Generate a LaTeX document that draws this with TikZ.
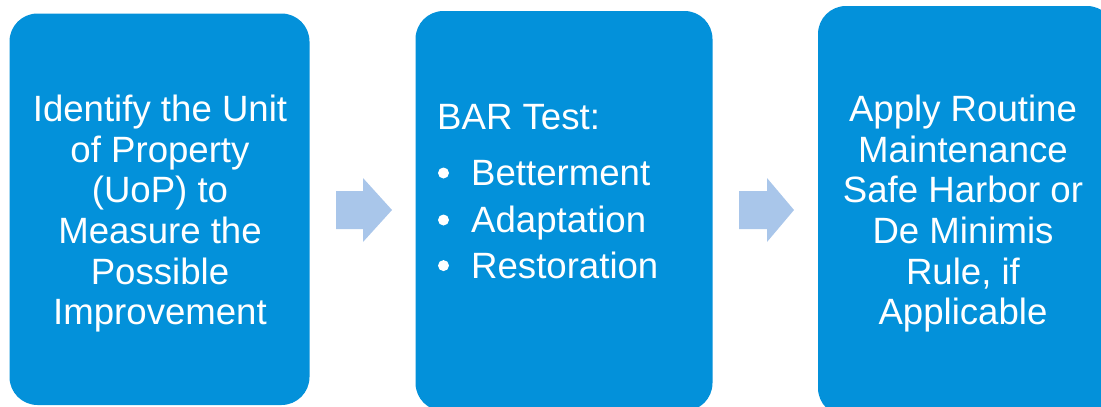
\documentclass[tikz,border=0pt]{standalone}
\usepackage{fontspec}
\setmainfont{Liberation Sans}
\definecolor{boxblue}{RGB}{3,145,218}
\definecolor{arrowblue}{RGB}{169,198,234}
\tikzset{
  stepbox/.style={fill=boxblue, draw=none, rounded corners=28pt, inner sep=0pt},
  boxtext/.style={text=white, font=\fontsize{36.6}{40.6}\selectfont, inner sep=0pt, align=center},
  bartext/.style={text=white, font=\fontsize{36.6}{40.6}\selectfont, inner sep=0pt, anchor=base west},
  bulletdot/.style={circle, fill=white, draw=none, minimum size=11pt, inner sep=0pt},
  blockarrow/.style={fill=arrowblue, draw=none},
}
\begin{document}
\begin{tikzpicture}[x=1pt,y=-1pt]
\useasboundingbox (0,0) rectangle (1101,407);
\clip (0,0) rectangle (1101,407);
% boxes
\node[stepbox, minimum width=300pt, minimum height=391.5pt] (b1) at (159.5,209.25) {};
\node[stepbox, minimum width=297pt, minimum height=400pt] (b2) at (564,211) {};
\node[stepbox, minimum width=297pt, minimum height=410pt] (b3) at (966.5,211) {};
% block arrows
\fill[blockarrow] (336,191) -- (363,191) -- (363,178) -- (392,210) -- (363,242) -- (363,229) -- (336,229) -- cycle;
\fill[blockarrow] (739,191) -- (767,191) -- (767,178) -- (794,210) -- (767,242) -- (767,229) -- (739,229) -- cycle;
% texts
\node[boxtext, anchor=north] (t1) at (160,95) {Identify the Unit\\of Property\\(UoP) to\\Measure the\\Possible\\Improvement};
\node[boxtext, anchor=north] (t3) at (963,95) {Apply Routine\\Maintenance\\Safe Harbor or\\De Minimis\\Rule, if\\Applicable};
\node[bartext] (bar) at (437,129) {BAR Test:};
\node[bartext] (i1) at (471,185.7) {Betterment};
\node[bartext] (i2) at (471,232.7) {Adaptation};
\node[bartext] (i3) at (471,278.3) {Restoration};
\node[bulletdot] (d1) at (443.5,173) {};
\node[bulletdot] (d2) at (443.5,220) {};
\node[bulletdot] (d3) at (443.5,265.6) {};
\end{tikzpicture}
\end{document}
